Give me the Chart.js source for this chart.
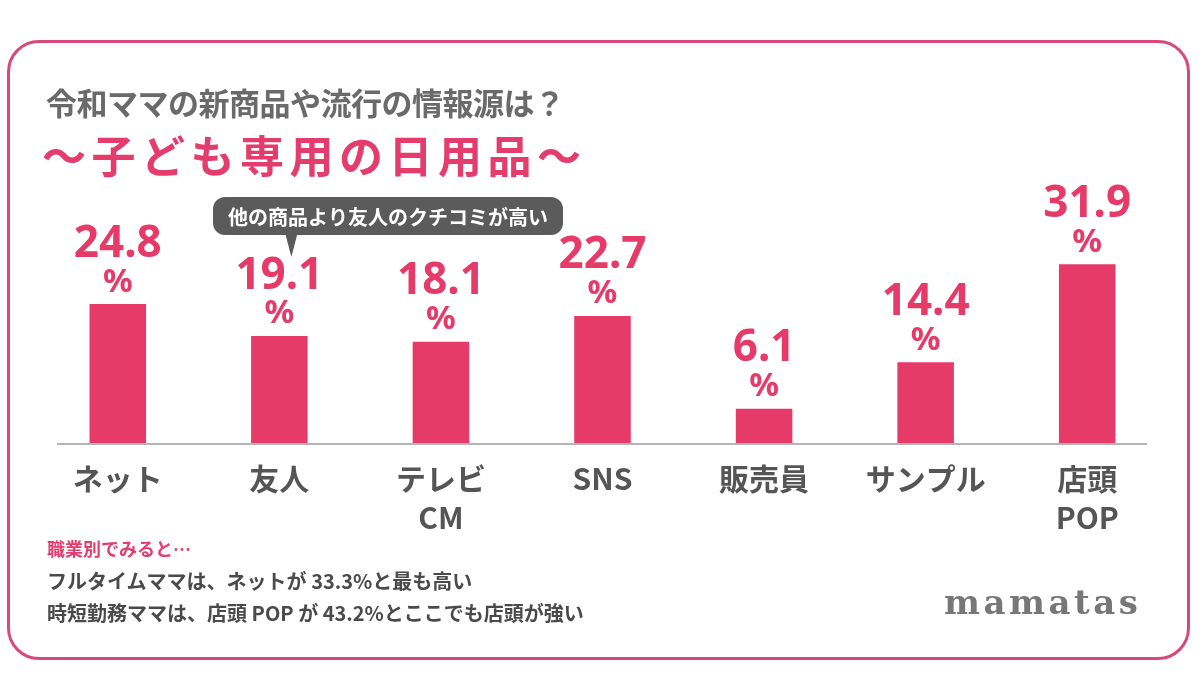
<!DOCTYPE html>
<html><head><meta charset="utf-8">
<script src="https://cdn.jsdelivr.net/npm/chart.js@4"></script>
<style>
html,body{margin:0;padding:0;background:#fff;}
#wrap{position:relative;width:1200px;height:700px;overflow:hidden;font-family:"Noto Sans CJK JP","Noto Sans",sans-serif;}
#frame{position:absolute;left:7px;top:40px;width:1183px;height:620px;border:3px solid #d9487c;border-radius:32px;box-sizing:border-box;}
canvas{position:absolute;left:0;top:0;}
.t{position:absolute;white-space:nowrap;}
</style></head><body>
<div id="wrap">
<div id="frame"></div>
<canvas id="c" width="1200" height="700"></canvas>
<div class="t" style="left:46px;top:79px;font-size:31px;font-weight:700;color:#6a6a6a;letter-spacing:-0.5px;">令和ママの新商品や流行の情報源は？</div>
<div class="t" style="left:42px;top:122px;font-size:44px;font-weight:700;color:#e43c6c;letter-spacing:5.5px;">～子ども専用の日用品～</div>
<div class="t" style="left:47px;top:535px;font-size:18px;font-weight:700;color:#e43c6c;">職業別でみると…</div>
<div class="t" style="left:47px;top:566px;font-size:20px;font-weight:700;color:#4a4a4a;">フルタイムママは、ネットが 33.3%と最も高い</div>
<div class="t" style="left:47px;top:598px;font-size:20px;font-weight:700;color:#4a4a4a;">時短勤務ママは、店頭 POP が 43.2%とここでも店頭が強い</div>
<div class="t" style="left:944px;top:582px;font-size:34px;font-weight:700;color:#777;font-family:'DejaVu Serif',serif;letter-spacing:3.5px;">mamatas</div>
</div>
<script>
const categories = [["ネット"], ["友人"], ["テレビ", "CM"], ["SNS"], ["販売員"], ["サンプル"], ["店頭", "POP"]];
const values = [24.8, 19.1, 18.1, 22.7, 6.1, 14.4, 31.9];
const calloutText = "他の商品より友人のクチコミが高い";
const calloutIndex = 1;

const PINK = "#e63a69";

const labelPlugin = {
  id: "labels",
  afterDatasetsDraw(chart) {
    const ctx = chart.ctx;
    const meta = chart.getDatasetMeta(0);
    const ys = chart.scales.y;
    const y0 = ys.getPixelForValue(0);
    ctx.save();
    ctx.strokeStyle = "#b5b5b5";
    ctx.lineWidth = 2;
    ctx.beginPath();
    ctx.moveTo(57, y0 + 1);
    ctx.lineTo(1147, y0 + 1);
    ctx.stroke();
    ctx.fillStyle = PINK;
    ctx.textAlign = "center";
    ctx.textBaseline = "middle";
    meta.data.forEach((bar, i) => {
      const x = bar.x, top = bar.y;
      ctx.font = "bold 44px 'Noto Sans', 'Noto Sans CJK JP', sans-serif";
      ctx.fillText(values[i].toFixed(1), x, top - 60);
      ctx.font = "bold 33px 'Noto Sans', 'Noto Sans CJK JP', sans-serif";
      ctx.fillText("%", x, top - 22);
    });
    const b = meta.data[calloutIndex];
    const px = b.x + 12;
    const bx = 213, by = 197, bw = 350, bh = 38, r = 12;
    ctx.fillStyle = "#5b5b5b";
    ctx.beginPath();
    ctx.roundRect(bx, by, bw, bh, r);
    ctx.fill();
    ctx.beginPath();
    ctx.moveTo(px - 6, by + bh - 1);
    ctx.lineTo(px + 6, by + bh - 1);
    ctx.lineTo(px, by + bh + 22);
    ctx.closePath();
    ctx.fill();
    ctx.fillStyle = "#fff";
    ctx.font = "bold 20px 'Noto Sans CJK JP', sans-serif";
    ctx.fillText(calloutText, bx + bw / 2, by + bh / 2 + 1);
    ctx.restore();
  }
};

new Chart(document.getElementById("c"), {
  type: "bar",
  data: {
    labels: categories,
    datasets: [{ data: values, backgroundColor: PINK, barPercentage: 0.7, categoryPercentage: 0.5 }]
  },
  options: {
    responsive: false,
    animation: false,
    events: [],
    layout: { padding: { left: 37, right: 32, top: 219, bottom: 147 } },
    plugins: { legend: { display: false }, tooltip: { enabled: false } },
    scales: {
      x: {
        grid: { display: false, drawTicks: false },
        border: { display: false },
        ticks: {
          color: "#555",
          padding: 16,
          maxRotation: 0,
          autoSkip: false,
          font: { family: "'Noto Sans CJK JP', sans-serif", size: 30, weight: "bold", lineHeight: 1.3 }
        }
      },
      y: { display: false, min: 0, max: 40 }
    }
  },
  plugins: [labelPlugin]
});
</script>
</body></html>
